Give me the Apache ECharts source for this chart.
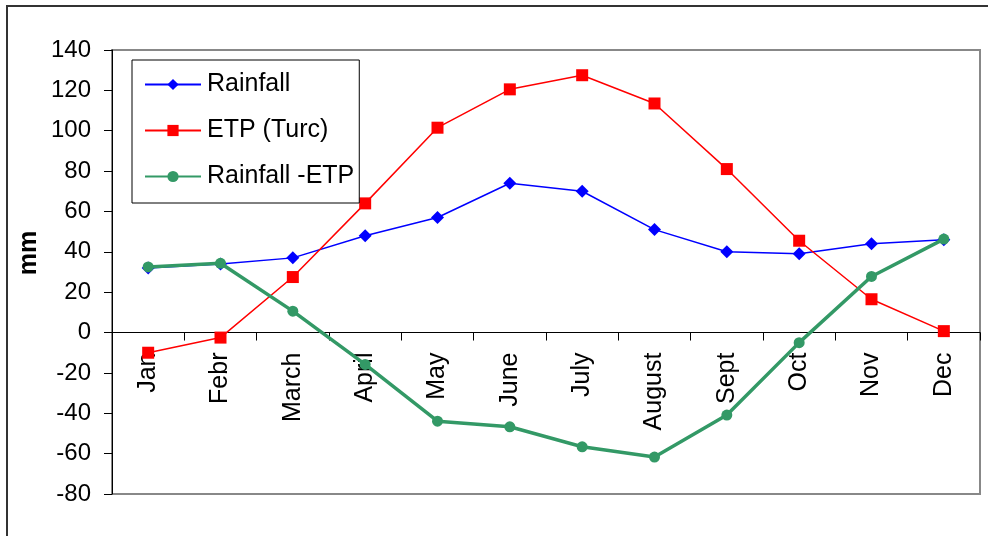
<!DOCTYPE html>
<html>
<head>
<meta charset="utf-8">
<script src="https://cdn.jsdelivr.net/npm/echarts@6/dist/echarts.min.js"></script>
<style>
html,body{margin:0;padding:0;background:#fff;}
#chart{width:988px;height:536px;}
</style>
</head>
<body>
<div id="chart"></div>
<script>
var months = ['Jan','Febr','March','April','May','June','July','August','Sept','Oct','Nov','Dec'];
var rainfall = [32, 34, 37, 48, 57, 74, 70, 51, 40, 39, 44, 46];
var etp = [-10, -2.5, 27.5, 64, 101.5, 120.5, 127.5, 113.5, 81, 45.5, 16.5, 0.7];
var rainMinusEtp = [32.5, 34.3, 10.6, -15.8, -43.9, -46.7, -56.6, -61.7, -40.9, -5, 27.8, 46.3];
var yTicks = {min: -80, max: 140, interval: 20};

var chart = echarts.init(document.getElementById('chart'), null, {renderer: 'canvas'});
var font = 'Liberation Sans, Arial, sans-serif';
chart.setOption({
  backgroundColor: '#fff',
  animation: false,
  textStyle: {fontFamily: font},
  graphic: [
    {type: 'rect', z: -1, shape: {x: 7, y: 6, width: 1000, height: 560},
     style: {fill: 'none', stroke: '#333', lineWidth: 2}},
    {type: 'text', x: 29, y: 253, rotation: Math.PI / 2,
     style: {text: 'mm', font: 'bold 25px ' + font, fill: '#000', align: 'center', verticalAlign: 'middle'}}
  ],
  grid: {left: 112, right: 8, top: 50, bottom: 42, outerBoundsMode: 'none', containLabel: false,
         show: true, borderColor: '#888', borderWidth: 2, backgroundColor: 'transparent'},
  legend: {
    orient: 'vertical', left: 132, top: 60,
    padding: [12, 5, 14, 12],
    itemWidth: 56, itemHeight: 14, itemGap: 21,
    borderColor: '#000', borderWidth: 1, backgroundColor: '#fff',
    textStyle: {fontSize: 25, color: '#000', fontFamily: font, padding: [0, 0, 0, 1]},
    data: ['Rainfall', 'ETP (Turc)', 'Rainfall -ETP']
  },
  xAxis: {
    type: 'category', data: months, boundaryGap: true, position: 'bottom', offset: 0,
    axisLine: {onZero: false, lineStyle: {color: '#000', width: 1}},
    axisTick: {show: true, length: 8, lineStyle: {color: '#000'}},
    axisLabel: {rotate: 90, fontSize: 25, color: '#000', margin: 20, fontFamily: font, interval: 0, hideOverlap: false},
    splitLine: {show: false}
  },
  yAxis: {
    type: 'value', min: yTicks.min, max: yTicks.max, interval: yTicks.interval,
    axisLine: {show: true, lineStyle: {color: '#000', width: 1}},
    axisTick: {show: true, length: 8, lineStyle: {color: '#000'}},
    axisLabel: {fontSize: 24, color: '#000', margin: 21, fontFamily: font},
    splitLine: {show: false}
  },
  series: [
    {name: 'Rainfall', type: 'line', data: rainfall, symbol: 'diamond', symbolSize: 13,
     lineStyle: {color: '#0000ff', width: 1.5}, itemStyle: {color: '#0000ff'}, z: 2},
    {name: 'ETP (Turc)', type: 'line', data: etp, symbol: 'rect', symbolSize: 12,
     lineStyle: {color: '#ff0000', width: 1.5}, itemStyle: {color: '#ff0000'}, z: 3},
    {name: 'Rainfall -ETP', type: 'line', data: rainMinusEtp, symbol: 'circle', symbolSize: 11,
     lineStyle: {color: '#339966', width: 3.5}, itemStyle: {color: '#339966'}, z: 4}
  ]
});
// move the category axis onto the value-axis zero line, using the library's own scale
var yBottom = chart.convertToPixel({yAxisIndex: 0}, yTicks.min);
var yZero = chart.convertToPixel({yAxisIndex: 0}, 0);
chart.setOption({xAxis: {offset: -(yBottom - yZero)}});
</script>
</body>
</html>
